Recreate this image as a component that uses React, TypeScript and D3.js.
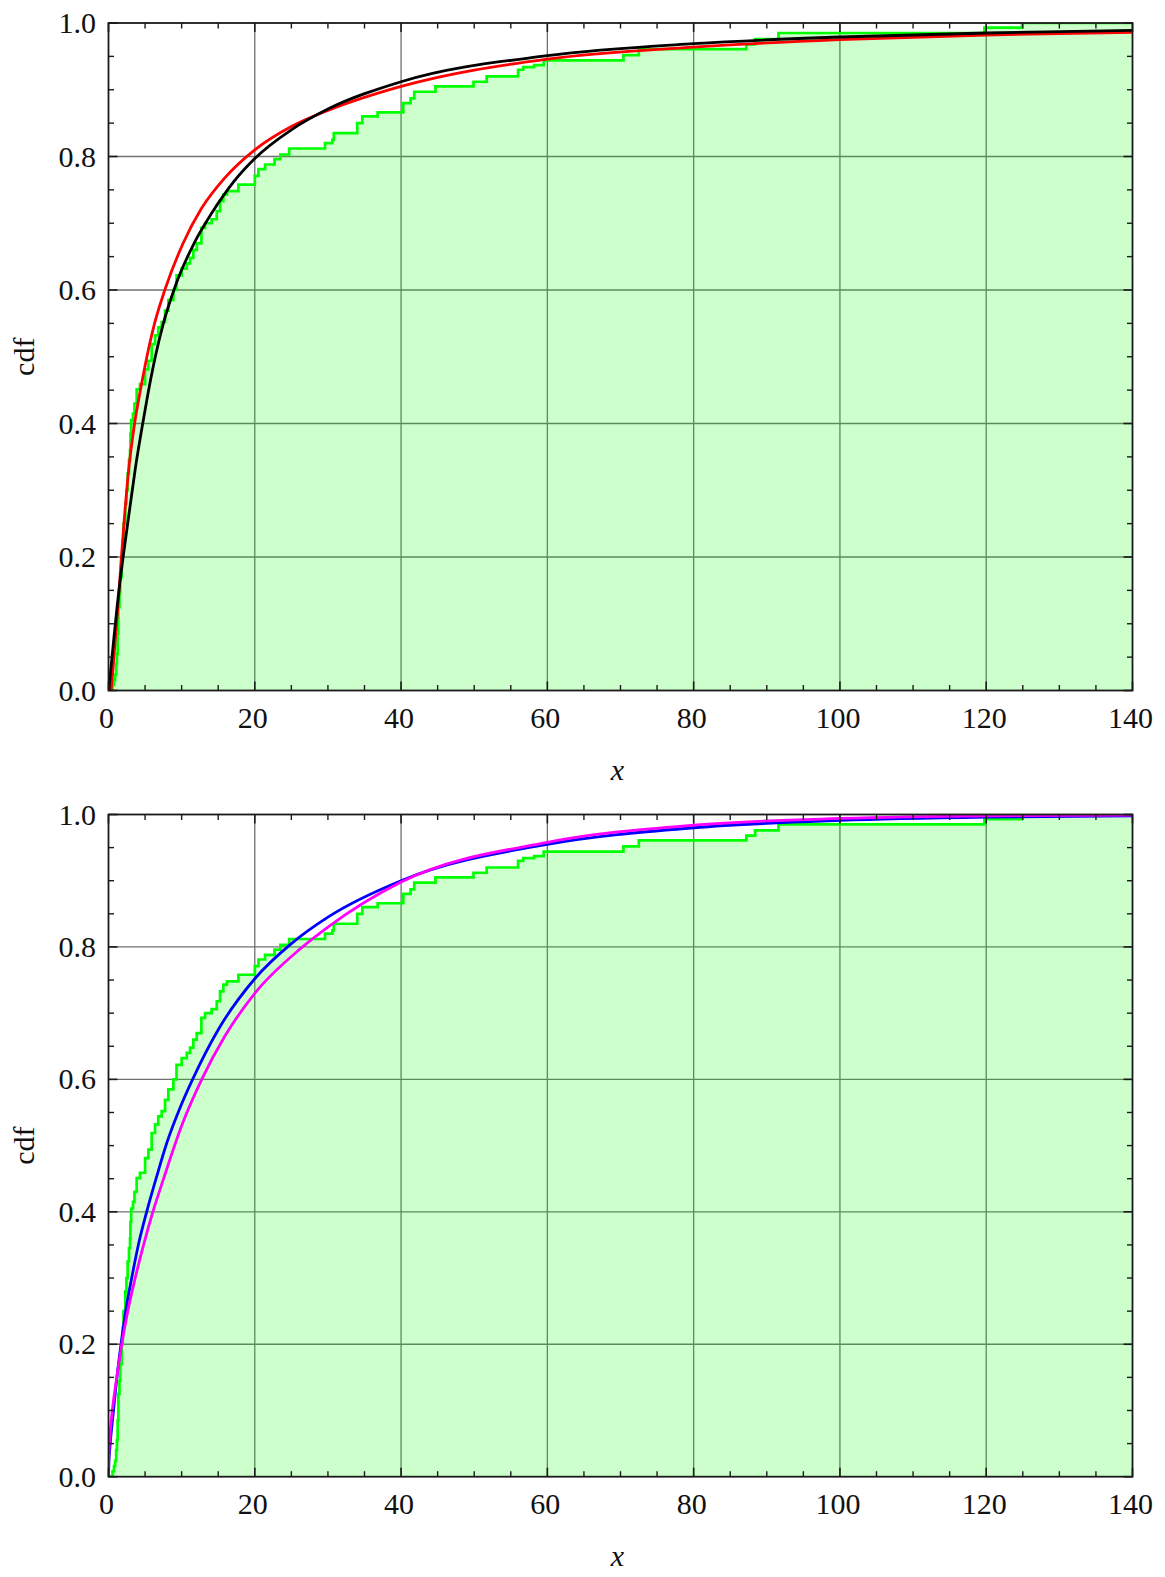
import React from "react";
import * as d3 from "d3";

// Axis ticks
const X_TICKS = [0, 20, 40, 60, 80, 100, 120, 140];
const Y_TICKS = [0, 0.2, 0.4, 0.6, 0.8, 1.0];

// Empirical CDF: jump locations and the level reached after each jump
const ecdfX = [
  0.55, 0.75, 0.9, 1.05, 1.15, 1.25, 1.35, 1.5, 1.6, 1.8, 1.95, 2.05, 2.3, 2.45, 2.62, 2.8, 2.94, 3.0, 3.1,
  3.35, 3.55, 3.85, 4.3, 5.0, 5.45, 5.9, 6.36, 6.8, 7.27, 7.73, 8.18, 8.87, 9.3, 10.0, 10.7, 11.15, 11.6,
  12.06, 12.7, 13.2, 14.1, 14.8, 15.25, 15.7, 16.2, 17.76, 20.0, 20.5, 21.4, 22.7, 23.5, 24.7, 29.6, 30.6,
  30.8, 34.0, 34.7, 36.8, 40.3, 41.3, 41.8, 44.7, 49.9, 51.7, 56.0, 56.7, 58.2, 59.5, 70.4, 72.5, 87.2,
  88.4, 91.6, 119.75, 124.9,
];
const ecdfLevel = [
  0.008, 0.016, 0.024, 0.04, 0.055, 0.085, 0.125, 0.145, 0.17, 0.2, 0.225, 0.25, 0.28, 0.3, 0.325, 0.345,
  0.36, 0.385, 0.405, 0.415, 0.43, 0.451, 0.459, 0.481, 0.494, 0.519, 0.532, 0.544, 0.552, 0.569, 0.585,
  0.6, 0.622, 0.632, 0.64, 0.648, 0.66, 0.67, 0.693, 0.7, 0.706, 0.718, 0.733, 0.743, 0.748, 0.758, 0.771,
  0.781, 0.788, 0.796, 0.803, 0.812, 0.82, 0.825, 0.835, 0.85, 0.86, 0.866, 0.88, 0.887, 0.897, 0.905,
  0.912, 0.92, 0.93, 0.934, 0.937, 0.944, 0.952, 0.961, 0.968, 0.976, 0.985, 0.993, 1.0,
];

// Fitted CDF curves, sampled
const redX = [0.35, 0.6, 0.95, 1.35, 1.7, 2.25, 2.7, 3.5, 4.45, 5.25, 6.3, 7.7, 10.2, 12.7, 15.9, 20, 25, 30, 40, 60, 80, 100, 120, 140];
const redY = [0, 0.03, 0.08, 0.135, 0.19, 0.27, 0.325, 0.395, 0.455, 0.5, 0.55, 0.6, 0.67, 0.722, 0.768, 0.81, 0.845, 0.869, 0.905, 0.946, 0.964, 0.975, 0.982, 0.986];

const blackX = [0.05, 0.3, 0.75, 1.2, 2.0, 3.0, 3.7, 4.6, 5.4, 6.4, 7.5, 9.1, 11.7, 14.1, 17.1, 20, 25, 30, 40, 60, 80, 100, 120, 140];
const blackY = [0, 0.03, 0.08, 0.128, 0.2, 0.28, 0.335, 0.395, 0.445, 0.5, 0.55, 0.605, 0.67, 0.715, 0.762, 0.797, 0.84, 0.871, 0.912, 0.951, 0.969, 0.979, 0.985, 0.989];

const blueX = [0, 0.05, 0.2, 0.66, 1.12, 1.71, 2.35, 3.17, 4.08, 5.22, 6.5, 8.0, 9.7, 11.5, 15, 20, 25, 30, 40, 60, 80, 100, 120, 140];
const blueY = [0, 0.02, 0.045, 0.097, 0.147, 0.2, 0.25, 0.3, 0.35, 0.4, 0.45, 0.505, 0.555, 0.6, 0.675, 0.752, 0.805, 0.845, 0.9, 0.955, 0.98, 0.991, 0.996, 0.998];

const magentaX = [0, 0.01, 0.05, 0.15, 0.52, 1.12, 1.8, 2.62, 3.63, 4.77, 6.04, 7.5, 10, 12.75, 15.9, 20, 26.2, 30, 40, 60, 80, 100, 120, 140];
const magentaY = [0, 0.02, 0.035, 0.055, 0.1, 0.149, 0.199, 0.249, 0.299, 0.349, 0.399, 0.449, 0.53, 0.6, 0.665, 0.73, 0.797, 0.83, 0.898, 0.958, 0.984, 0.994, 0.998, 0.999];

const LEFT = 108.5;
const RIGHT = 1132.5;
const FONT = "'Times New Roman', 'Liberation Serif', serif";

type Curve = { xs: number[]; ys: number[]; color: string };

function Panel({ top, bottom, curves, id }: { top: number; bottom: number; curves: Curve[]; id: string }) {
  const x = d3.scaleLinear().domain([0, 140]).range([LEFT, RIGHT]);
  const y = d3.scaleLinear().domain([0, 1]).range([bottom, top]);

  const ecdfPts: [number, number][] = [[0, 0], ...ecdfX.map((v, i) => [v, ecdfLevel[i]] as [number, number]), [140, 1]];
  const stepLine = d3
    .line<[number, number]>()
    .x((d) => x(d[0]))
    .y((d) => y(d[1]))
    .curve(d3.curveStepAfter);
  const stepArea = d3
    .area<[number, number]>()
    .x((d) => x(d[0]))
    .y0(y(0))
    .y1((d) => y(d[1]))
    .curve(d3.curveStepAfter);
  const smooth = d3
    .line<[number, number]>()
    .x((d) => x(d[0]))
    .y((d) => y(d[1]))
    .curve(d3.curveMonotoneX);

  const xMinor = d3.range(0, 141, 5).filter((v) => v % 20 !== 0);
  const yMinor = d3.range(0, 21).map((i) => i * 0.05).filter((_, i) => i % 4 !== 0);
  const major = 9;
  const minor = 5.5;

  return (
    <g>
      <defs>
        <clipPath id={id}>
          <rect x={LEFT} y={top} width={RIGHT - LEFT} height={bottom - top} />
        </clipPath>
      </defs>
      {/* grid */}
      {X_TICKS.slice(1, -1).map((t) => (
        <line key={"gx" + t} x1={x(t)} x2={x(t)} y1={top} y2={bottom} stroke="#707070" strokeWidth={1.3} />
      ))}
      {Y_TICKS.slice(1, -1).map((t) => (
        <line key={"gy" + t} x1={LEFT} x2={RIGHT} y1={y(t)} y2={y(t)} stroke="#707070" strokeWidth={1.3} />
      ))}
      <g clipPath={`url(#${id})`}>
        <path d={stepArea(ecdfPts) || ""} fill="rgb(0,255,0)" fillOpacity={0.2} />
        <path d={stepLine(ecdfPts) || ""} fill="none" stroke="#00ff00" strokeWidth={2.7} />
        {curves.map((c, i) => (
          <path
            key={i}
            d={smooth(c.xs.map((v, j) => [v, c.ys[j]] as [number, number])) || ""}
            fill="none"
            stroke={c.color}
            strokeWidth={2.8}
          />
        ))}
      </g>
      {/* frame */}
      <rect x={LEFT} y={top} width={RIGHT - LEFT} height={bottom - top} fill="none" stroke="#1a1a1a" strokeWidth={1.8} />
      {/* ticks */}
      {X_TICKS.map((t) => (
        <g key={"tx" + t}>
          <line x1={x(t)} x2={x(t)} y1={bottom} y2={bottom - major} stroke="#1a1a1a" strokeWidth={1.6} />
          <line x1={x(t)} x2={x(t)} y1={top} y2={top + major} stroke="#1a1a1a" strokeWidth={1.6} />
        </g>
      ))}
      {xMinor.map((t) => (
        <g key={"mx" + t}>
          <line x1={x(t)} x2={x(t)} y1={bottom} y2={bottom - minor} stroke="#1a1a1a" strokeWidth={1.4} />
          <line x1={x(t)} x2={x(t)} y1={top} y2={top + minor} stroke="#1a1a1a" strokeWidth={1.4} />
        </g>
      ))}
      {Y_TICKS.map((t) => (
        <g key={"ty" + t}>
          <line x1={LEFT} x2={LEFT + major} y1={y(t)} y2={y(t)} stroke="#1a1a1a" strokeWidth={1.6} />
          <line x1={RIGHT} x2={RIGHT - major} y1={y(t)} y2={y(t)} stroke="#1a1a1a" strokeWidth={1.6} />
        </g>
      ))}
      {yMinor.map((t) => (
        <g key={"my" + t}>
          <line x1={LEFT} x2={LEFT + minor} y1={y(t)} y2={y(t)} stroke="#1a1a1a" strokeWidth={1.4} />
          <line x1={RIGHT} x2={RIGHT - minor} y1={y(t)} y2={y(t)} stroke="#1a1a1a" strokeWidth={1.4} />
        </g>
      ))}
      {/* tick labels */}
      {X_TICKS.map((t) => (
        <text key={"lx" + t} x={x(t) - 2} y={bottom + 37.5} textAnchor="middle" fontFamily={FONT} fontSize={30} fill="#111">
          {t}
        </text>
      ))}
      {Y_TICKS.map((t) => (
        <text key={"ly" + t} x={96} y={y(t) + 10} textAnchor="end" fontFamily={FONT} fontSize={30} fill="#111">
          {d3.format(".1f")(t)}
        </text>
      ))}
      <text x={(LEFT + RIGHT) / 2 - 3} y={bottom + 89} textAnchor="middle" fontFamily={FONT} fontStyle="italic" fontSize={30} fill="#111">
        x
      </text>
      <text
        transform={`translate(34,${(top + bottom) / 2}) rotate(-90)`}
        textAnchor="middle"
        fontFamily={FONT}
        fontSize={30}
        fill="#111"
      >
        cdf
      </text>
    </g>
  );
}

export default function App() {
  return (
    <svg
      width={1165}
      height={1577}
      viewBox="0 0 1165 1577"
      style={{ position: "absolute", left: 0, top: 0, background: "#fff" }}
    >
      <rect width={1165} height={1577} fill="#fff" />
      <Panel
        id="clipTop"
        top={23}
        bottom={690.5}
        curves={[
          { xs: redX, ys: redY, color: "#ff0000" },
          { xs: blackX, ys: blackY, color: "#000000" },
        ]}
      />
      <Panel
        id="clipBottom"
        top={814.5}
        bottom={1476.7}
        curves={[
          { xs: blueX, ys: blueY, color: "#0000ff" },
          { xs: magentaX, ys: magentaY, color: "#ff00ff" },
        ]}
      />
    </svg>
  );
}
